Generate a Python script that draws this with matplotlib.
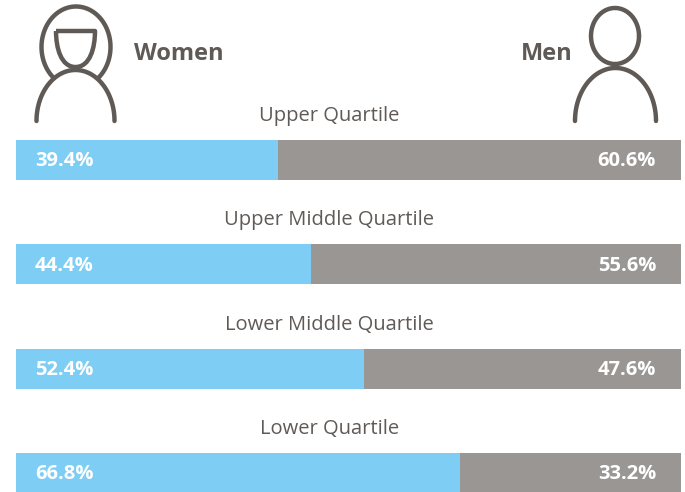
import numpy as np
import matplotlib
matplotlib.use('Agg')
import matplotlib.pyplot as plt
from matplotlib.path import Path
from matplotlib.patches import PathPatch

quartiles = ['Upper Quartile', 'Upper Middle Quartile', 'Lower Middle Quartile', 'Lower Quartile']
women = [39.4, 44.4, 52.4, 66.8]
men = [60.6, 55.6, 47.6, 33.2]

BLUE = '#7dcdf5'
GREY = '#9a9694'
DARK = '#5f5a56'
W, H = 685, 492

plt.rcParams['font.family'] = ['Open Sans', 'DejaVu Sans']

fig = plt.figure(figsize=(W / 100, H / 100), dpi=100)
fig.patch.set_facecolor('white')

# axes des barres, en pourcentage
pas = 104.33
ax = fig.add_axes([16 / W, 0, 665 / W, (H - 140) / H])
y = np.arange(len(quartiles))
ax.barh(y, women, height=40 / pas, color=BLUE)
ax.barh(y, men, left=women, height=40 / pas, color=GREY)
ax.set_xlim(0, 100)
ax.set_ylim(3 + 19 / pas, -20 / pas)
ax.axis('off')

for i in y:
    ax.annotate('%.1f%%' % women[i], (0, i), xytext=(13.5, -1), textcoords='offset points',
                color='white', fontsize=14.5, fontweight='bold', va='center', ha='left')
    ax.annotate('%.1f%%' % men[i], (100, i), xytext=(-18, -1), textcoords='offset points',
                color='white', fontsize=14.5, fontweight='bold', va='center', ha='right')

# calque en pixels pour les icones et les textes
over = fig.add_axes([0, 0, 1, 1])
over.set_xlim(0, W)
over.set_ylim(H, 0)
over.axis('off')

for i in y:
    over.text(329.5, 116 + pas * i, quartiles[i], color=DARK, fontsize=14.5, ha='center', va='center')

over.text(134, 54, 'Women', color=DARK, fontsize=17, fontweight='bold', ha='left', va='center')
over.text(573, 54, 'Men', color=DARK, fontsize=17, fontweight='bold', ha='right', va='center')


def arc(cx, cy, rx, ry, a1, a2):
    t = np.radians(np.linspace(a1, a2, 120))
    over.plot(cx + rx * np.cos(t), cy + ry * np.sin(t), color=DARK, lw=3.2, solid_capstyle='round')


# femme
arc(76, 47, 34.5, 40.5, 130, 410)
arc(75.5, 121, 39, 51, 180, 360)
visage = [(56, 31), (95, 31), (95, 48), (90, 67), (75.5, 67), (61, 67), (56, 48), (56, 31)]
codes = [Path.MOVETO, Path.LINETO, Path.CURVE4, Path.CURVE4, Path.CURVE4, Path.CURVE4, Path.CURVE4, Path.CURVE4]
over.add_patch(PathPatch(Path(visage, codes), fill=False, edgecolor=DARK, lw=3.2, joinstyle='round'))

# homme
arc(615, 36, 24, 28, 0, 360)
arc(615.5, 121, 40.5, 53, 180, 360)

fig.savefig('out.png', dpi=100)
